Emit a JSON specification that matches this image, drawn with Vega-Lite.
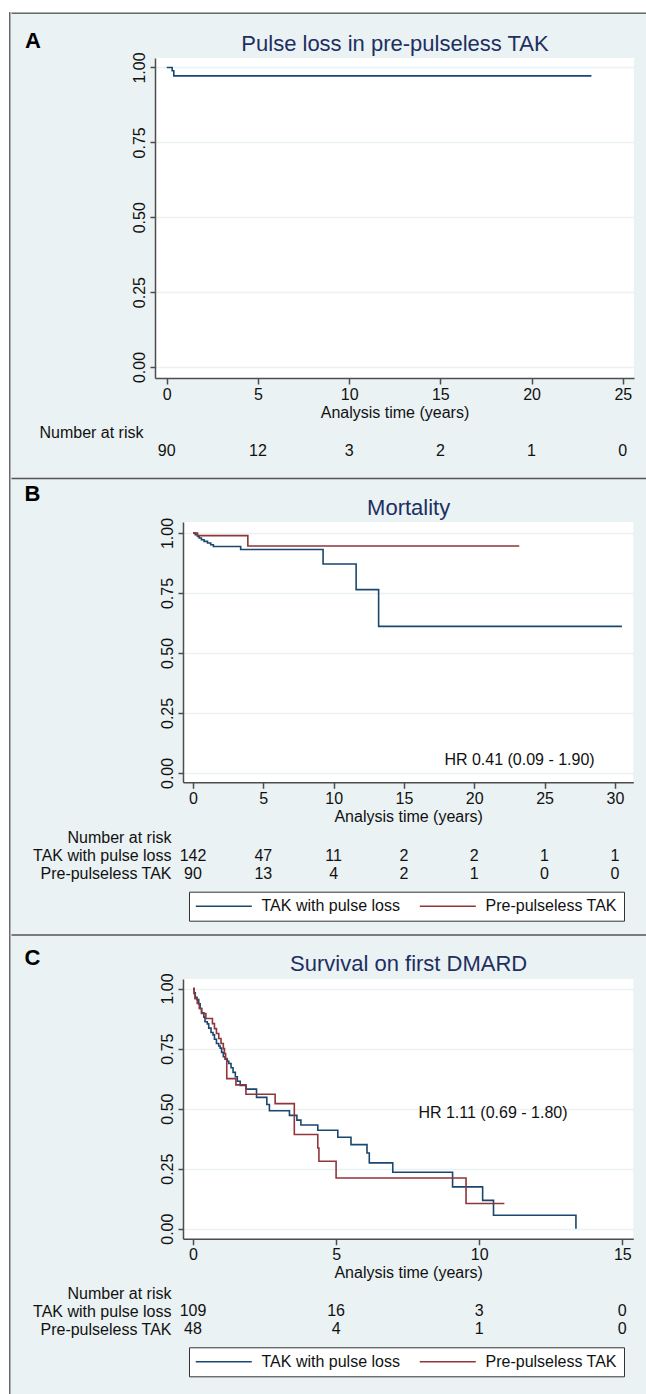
{
"$schema": "https://vega.github.io/schema/vega-lite/v6.json",
"background": "#eaf2f3",
"padding": 0,
"datasets": {
"a_curve": [{"t":0,"s":1},{"t":0.3,"s":0.989},{"t":0.39,"s":0.972},{"t":23.28,"s":0.972}],
"b_curve": [
{"g":"TAK with pulse loss","t":0,"s":1},{"g":"TAK with pulse loss","t":0.16,"s":0.993},{"g":"TAK with pulse loss","t":0.32,"s":0.986},{"g":"TAK with pulse loss","t":0.44,"s":0.979},{"g":"TAK with pulse loss","t":0.6,"s":0.972},{"g":"TAK with pulse loss","t":0.79,"s":0.965},{"g":"TAK with pulse loss","t":1.03,"s":0.958},{"g":"TAK with pulse loss","t":1.26,"s":0.951},{"g":"TAK with pulse loss","t":1.45,"s":0.944},{"g":"TAK with pulse loss","t":3.39,"s":0.931},{"g":"TAK with pulse loss","t":9.25,"s":0.871},{"g":"TAK with pulse loss","t":11.6,"s":0.764},{"g":"TAK with pulse loss","t":13.2,"s":0.611},{"g":"TAK with pulse loss","t":30.5,"s":0.611},
{"g":"Pre-pulseless TAK","t":0,"s":1},{"g":"Pre-pulseless TAK","t":0.32,"s":0.989},{"g":"Pre-pulseless TAK","t":3.9,"s":0.946},{"g":"Pre-pulseless TAK","t":23.2,"s":0.946}],
"c_curve": [
{"g":"TAK with pulse loss","t":0,"s":1},{"g":"TAK with pulse loss","t":0.04,"s":0.982},{"g":"TAK with pulse loss","t":0.08,"s":0.963},{"g":"TAK with pulse loss","t":0.14,"s":0.954},{"g":"TAK with pulse loss","t":0.2,"s":0.936},{"g":"TAK with pulse loss","t":0.25,"s":0.917},{"g":"TAK with pulse loss","t":0.3,"s":0.899},{"g":"TAK with pulse loss","t":0.38,"s":0.881},{"g":"TAK with pulse loss","t":0.42,"s":0.862},{"g":"TAK with pulse loss","t":0.5,"s":0.853},{"g":"TAK with pulse loss","t":0.55,"s":0.835},{"g":"TAK with pulse loss","t":0.63,"s":0.817},{"g":"TAK with pulse loss","t":0.7,"s":0.807},{"g":"TAK with pulse loss","t":0.75,"s":0.789},{"g":"TAK with pulse loss","t":0.82,"s":0.771},{"g":"TAK with pulse loss","t":0.9,"s":0.761},{"g":"TAK with pulse loss","t":0.95,"s":0.752},{"g":"TAK with pulse loss","t":1.0,"s":0.734},{"g":"TAK with pulse loss","t":1.06,"s":0.716},{"g":"TAK with pulse loss","t":1.12,"s":0.706},{"g":"TAK with pulse loss","t":1.2,"s":0.697},{"g":"TAK with pulse loss","t":1.25,"s":0.688},{"g":"TAK with pulse loss","t":1.33,"s":0.67},{"g":"TAK with pulse loss","t":1.4,"s":0.651},{"g":"TAK with pulse loss","t":1.48,"s":0.633},{"g":"TAK with pulse loss","t":1.55,"s":0.614},{"g":"TAK with pulse loss","t":1.65,"s":0.596},{"g":"TAK with pulse loss","t":1.86,"s":0.581},{"g":"TAK with pulse loss","t":2.22,"s":0.547},{"g":"TAK with pulse loss","t":2.58,"s":0.517},{"g":"TAK with pulse loss","t":2.67,"s":0.491},{"g":"TAK with pulse loss","t":3.37,"s":0.472},{"g":"TAK with pulse loss","t":3.63,"s":0.452},{"g":"TAK with pulse loss","t":3.77,"s":0.432},{"g":"TAK with pulse loss","t":4.36,"s":0.41},{"g":"TAK with pulse loss","t":5.06,"s":0.381},{"g":"TAK with pulse loss","t":5.52,"s":0.35},{"g":"TAK with pulse loss","t":6.08,"s":0.315},{"g":"TAK with pulse loss","t":6.16,"s":0.274},{"g":"TAK with pulse loss","t":6.98,"s":0.235},{"g":"TAK with pulse loss","t":9.07,"s":0.174},{"g":"TAK with pulse loss","t":10.12,"s":0.118},{"g":"TAK with pulse loss","t":10.5,"s":0.056},{"g":"TAK with pulse loss","t":13.38,"s":0.0},
{"g":"Pre-pulseless TAK","t":0,"s":1},{"g":"Pre-pulseless TAK","t":0.04,"s":0.979},{"g":"Pre-pulseless TAK","t":0.07,"s":0.958},{"g":"Pre-pulseless TAK","t":0.15,"s":0.938},{"g":"Pre-pulseless TAK","t":0.22,"s":0.917},{"g":"Pre-pulseless TAK","t":0.3,"s":0.896},{"g":"Pre-pulseless TAK","t":0.45,"s":0.875},{"g":"Pre-pulseless TAK","t":0.68,"s":0.854},{"g":"Pre-pulseless TAK","t":0.75,"s":0.833},{"g":"Pre-pulseless TAK","t":0.82,"s":0.813},{"g":"Pre-pulseless TAK","t":0.9,"s":0.792},{"g":"Pre-pulseless TAK","t":0.98,"s":0.771},{"g":"Pre-pulseless TAK","t":1.06,"s":0.75},{"g":"Pre-pulseless TAK","t":1.1,"s":0.729},{"g":"Pre-pulseless TAK","t":1.14,"s":0.708},{"g":"Pre-pulseless TAK","t":1.18,"s":0.625},{"g":"Pre-pulseless TAK","t":1.5,"s":0.599},{"g":"Pre-pulseless TAK","t":1.85,"s":0.56},{"g":"Pre-pulseless TAK","t":2.87,"s":0.521},{"g":"Pre-pulseless TAK","t":3.54,"s":0.392},{"g":"Pre-pulseless TAK","t":4.36,"s":0.336},{"g":"Pre-pulseless TAK","t":4.4,"s":0.281},{"g":"Pre-pulseless TAK","t":5.0,"s":0.211},{"g":"Pre-pulseless TAK","t":9.54,"s":0.105},{"g":"Pre-pulseless TAK","t":10.88,"s":0.105}],
"a_risk": [{"row":"n","t":0,"n":90},{"row":"n","t":5,"n":12},{"row":"n","t":10,"n":3},{"row":"n","t":15,"n":2},{"row":"n","t":20,"n":1},{"row":"n","t":25,"n":0}],
"b_risk": [
{"row":"TAK with pulse loss","t":0,"n":142},{"row":"TAK with pulse loss","t":5,"n":47},{"row":"TAK with pulse loss","t":10,"n":11},{"row":"TAK with pulse loss","t":15,"n":2},{"row":"TAK with pulse loss","t":20,"n":2},{"row":"TAK with pulse loss","t":25,"n":1},{"row":"TAK with pulse loss","t":30,"n":1},
{"row":"Pre-pulseless TAK","t":0,"n":90},{"row":"Pre-pulseless TAK","t":5,"n":13},{"row":"Pre-pulseless TAK","t":10,"n":4},{"row":"Pre-pulseless TAK","t":15,"n":2},{"row":"Pre-pulseless TAK","t":20,"n":1},{"row":"Pre-pulseless TAK","t":25,"n":0},{"row":"Pre-pulseless TAK","t":30,"n":0}],
"c_risk": [
{"row":"TAK with pulse loss","t":0,"n":109},{"row":"TAK with pulse loss","t":5,"n":16},{"row":"TAK with pulse loss","t":10,"n":3},{"row":"TAK with pulse loss","t":15,"n":0},
{"row":"Pre-pulseless TAK","t":0,"n":48},{"row":"Pre-pulseless TAK","t":5,"n":4},{"row":"Pre-pulseless TAK","t":10,"n":1},{"row":"Pre-pulseless TAK","t":15,"n":0}],
"b_hr": [{"label":"HR 0.41 (0.09 - 1.90)","t":23.22,"s":0.055}],
"c_hr": [{"label":"HR 1.11 (0.69 - 1.80)","t":10.48,"s":0.483}]
},
"config": {
"font": "Liberation Sans",
"view": {"stroke": null},
"axis": {"domainColor": "#4d4d4d", "domainWidth": 1.5, "tickColor": "#4d4d4d", "tickWidth": 1.5, "labelFont": "Liberation Sans", "labelFontSize": 16, "labelColor": "#111111", "titleFont": "Liberation Sans", "titleFontSize": 16, "titleFontWeight": "normal", "titleColor": "#111111"},
"axisX": {"grid": false, "tickSize": 6, "labelPadding": 2, "titlePadding": 2, "labelFlush": false},
"axisY": {"grid": true, "gridColor": "#eaf2f3", "gridWidth": 1.5, "tickSize": 5, "labelAngle": -90, "labelAlign": "center", "labelBaseline": "bottom", "labelPadding": 3},
"text": {"font": "Liberation Sans", "fontSize": 16, "color": "#111111"}
},
"spacing": 0,
"resolve": {"scale": {"color": "independent"}, "legend": {"color": "independent"}},
"vconcat": [
{"width": 646, "height": 12, "data": {"values": []}, "mark": "rect", "view": {"fill": "white", "stroke": null}},
{"hconcat": [
{"width": 9, "height": 1382, "data": {"values": []}, "mark": "rect", "view": {"fill": "white", "stroke": null}},
{"width": 1.5, "height": 1382, "data": {"values": []}, "mark": "rect", "view": {"fill": "#6a6a6a", "stroke": null}},
{"concat": [
 {"width": 635.5, "height": 17, "data": {"values": []}, "mark": "rect",
  "encoding": {"x": {"field": "t", "type": "quantitative", "scale": {"domain": [0, 1]}, "axis": {"orient": "top", "offset": -0.75, "labels": false, "ticks": false, "grid": false, "title": null, "domainColor": "#6a6a6a", "domainWidth": 1.5}}}},
 {"hconcat": [
  {"width": 12.5, "height": 1, "data": {"values": []}, "mark": "rect", "view": {"fill": null, "stroke": null}},
  {"vconcat": [
   {"width": 479, "height": 320,
    "view": {"fill": "white", "stroke": null},
    "resolve": {"axis": {"x": "independent"}},
    "layer": [
     {"data": {"name": "a_curve"},
      "mark": {"type": "line", "interpolate": "step-after", "color": "#1a476f", "strokeWidth": 1.6},
      "encoding": {
       "x": {"field": "t", "type": "quantitative", "scale": {"domain": [-0.641, 25.614], "nice": false, "zero": false}, "axis": {"orient": "bottom", "values": [0,5,10,15,20,25], "title": "Analysis time (years)"}},
       "y": {"field": "s", "type": "quantitative", "scale": {"domain": [-0.0367, 1.0317], "nice": false, "zero": false}, "axis": {"values": [0,0.25,0.5,0.75,1], "format": ".2f", "title": "A", "titleAngle": 0, "titleAlign": "left", "titleBaseline": "alphabetic", "titleX": -130.5, "titleY": -10.5, "titleFontSize": 22, "titleFontWeight": "bold", "titleColor": "#000000"}}
      }},
     {"data": {"name": "a_curve"},
      "mark": {"type": "line", "interpolate": "step-after", "opacity": 0},
      "encoding": {
       "x": {"field": "t", "type": "quantitative", "axis": {"orient": "top", "labels": false, "ticks": false, "domain": false, "grid": false, "title": "Pulse loss in pre-pulseless TAK", "titleFontSize": 22, "titleColor": "#1e2f61", "titleFontWeight": "normal", "titleBaseline": "alphabetic", "titleAlign": "center", "titleX": 239.5, "titleY": -8}},
       "y": {"field": "s", "type": "quantitative"}
      }}
    ]},
   {"width": 479, "height": 36,
    "data": {"name": "a_risk"},
    "mark": {"type": "text", "fontSize": 16, "baseline": "middle", "align": "center"},
    "encoding": {
     "x": {"field": "t", "type": "quantitative", "scale": {"domain": [-0.641, 25.614], "nice": false, "zero": false}, "axis": null},
     "y": {"field": "row", "type": "nominal", "scale": {"type": "point", "domain": ["Number at risk", "n"], "padding": 0.5}, "axis": {"title": null, "domain": false, "ticks": false, "grid": false, "labelAngle": 0, "labelAlign": "right", "labelBaseline": "middle", "labelPadding": 12, "labelExpr": "datum.value == 'n' ? '' : datum.value"}},
     "text": {"field": "n", "type": "quantitative"}
    }}
  ], "spacing": 3.5, "resolve": {"scale": {"color": "independent"}, "legend": {"color": "independent"}}}
 ], "spacing": 0, "resolve": {"scale": {"color": "independent"}, "legend": {"color": "independent"}}},
 {"width": 635.5, "height": 22, "data": {"values": []}, "mark": "rect",
  "encoding": {"x": {"field": "t", "type": "quantitative", "scale": {"domain": [0, 1]}, "axis": {"orient": "top", "offset": -18, "labels": false, "ticks": false, "grid": false, "title": null, "domainColor": "#555555", "domainWidth": 1.5}}}},
 {"hconcat": [
  {"width": 12.5, "height": 1, "data": {"values": []}, "mark": "rect", "view": {"fill": null, "stroke": null}},
  {"vconcat": [
   {"width": 450.3, "height": 260.3,
    "view": {"fill": "white", "stroke": null},
    "resolve": {"axis": {"x": "independent"}},
    "layer": [
     {"data": {"name": "b_curve"},
      "mark": {"type": "line", "interpolate": "step-after", "strokeWidth": 1.6},
      "encoding": {
       "x": {"field": "t", "type": "quantitative", "scale": {"domain": [-0.711, 31.31], "nice": false, "zero": false}, "axis": {"orient": "bottom", "values": [0,5,10,15,20,25,30], "title": "Analysis time (years)"}},
       "y": {"field": "s", "type": "quantitative", "scale": {"domain": [-0.039, 1.0458], "nice": false, "zero": false}, "axis": {"values": [0,0.25,0.5,0.75,1], "format": ".2f", "title": "B", "titleAngle": 0, "titleAlign": "left", "titleBaseline": "alphabetic", "titleX": -159, "titleY": -22, "titleFontSize": 22, "titleFontWeight": "bold", "titleColor": "#000000"}},
       "color": {"field": "g", "type": "nominal", "scale": {"domain": ["TAK with pulse loss", "Pre-pulseless TAK"], "range": ["#1a476f", "#90353b"]}, "legend": null}
      }},
     {"data": {"name": "b_hr"},
      "mark": {"type": "text", "fontSize": 16, "align": "center", "baseline": "middle"},
      "encoding": {
       "x": {"field": "t", "type": "quantitative", "axis": {"orient": "top", "labels": false, "ticks": false, "domain": false, "grid": false, "title": "Mortality", "titleFontSize": 22, "titleColor": "#1e2f61", "titleFontWeight": "normal", "titleBaseline": "alphabetic", "titleAlign": "center", "titleX": 225.15, "titleY": -8}},
       "y": {"field": "s", "type": "quantitative"},
       "text": {"field": "label", "type": "nominal"}
      }}
    ]},
   {"width": 450.3, "height": 54,
    "layer": [
     {"data": {"name": "b_risk"},
      "mark": {"type": "text", "fontSize": 16, "baseline": "middle", "align": "center"},
      "encoding": {
       "x": {"field": "t", "type": "quantitative", "scale": {"domain": [-0.711, 31.31], "nice": false, "zero": false}, "axis": null},
       "y": {"field": "row", "type": "nominal", "scale": {"type": "point", "domain": ["Number at risk", "TAK with pulse loss", "Pre-pulseless TAK"], "padding": 0.5}, "axis": {"title": null, "domain": false, "ticks": false, "grid": false, "labelAngle": 0, "labelAlign": "right", "labelBaseline": "middle", "labelPadding": 12}},
       "text": {"field": "n", "type": "quantitative"}
      }},
     {"data": {"name": "b_risk"},
      "mark": {"type": "point", "size": 0, "opacity": 0},
      "encoding": {
       "x": {"field": "t", "type": "quantitative"},
       "y": {"field": "row", "type": "nominal"},
       "color": {"field": "row", "type": "nominal", "scale": {"domain": ["TAK with pulse loss", "Pre-pulseless TAK"], "range": ["#1a476f", "#90353b"]}, "legend": {"orient": "none", "legendX": 6, "legendY": 63, "direction": "horizontal", "title": null, "symbolType": "M-1.1,0H6.9", "symbolSize": 196, "symbolStrokeWidth": 1.5, "symbolOpacity": 1, "labelFontSize": 16, "labelFont": "Liberation Sans", "labelColor": "#111111", "labelOffset": 50, "columnPadding": 16, "padding": 6.5, "fillColor": "white", "strokeColor": "#333333", "labelLimit": 400}}
      }}
    ]}
  ], "spacing": 3.7, "resolve": {"scale": {"color": "independent"}, "legend": {"color": "independent"}}}
 ], "spacing": 0, "resolve": {"scale": {"color": "independent"}, "legend": {"color": "independent"}}},
 {"width": 635.5, "height": 24, "data": {"values": []}, "mark": "rect",
  "encoding": {"x": {"field": "t", "type": "quantitative", "scale": {"domain": [0, 1]}, "axis": {"orient": "top", "offset": -12.5, "labels": false, "ticks": false, "grid": false, "title": null, "domainColor": "#555555", "domainWidth": 1.5}}}},
 {"hconcat": [
  {"width": 12.5, "height": 1, "data": {"values": []}, "mark": "rect", "view": {"fill": null, "stroke": null}},
  {"vconcat": [
   {"width": 450.3, "height": 259.7,
    "view": {"fill": "white", "stroke": null},
    "resolve": {"axis": {"x": "independent"}},
    "layer": [
     {"data": {"name": "c_curve"},
      "mark": {"type": "line", "interpolate": "step-after", "strokeWidth": 1.6},
      "encoding": {
       "x": {"field": "t", "type": "quantitative", "scale": {"domain": [-0.349, 15.384], "nice": false, "zero": false}, "axis": {"orient": "bottom", "values": [0,5,10,15], "title": "Analysis time (years)"}},
       "y": {"field": "s", "type": "quantitative", "scale": {"domain": [-0.0416, 1.0397], "nice": false, "zero": false}, "axis": {"values": [0,0.25,0.5,0.75,1], "format": ".2f", "title": "C", "titleAngle": 0, "titleAlign": "left", "titleBaseline": "alphabetic", "titleX": -159, "titleY": -15, "titleFontSize": 22, "titleFontWeight": "bold", "titleColor": "#000000"}},
       "color": {"field": "g", "type": "nominal", "scale": {"domain": ["TAK with pulse loss", "Pre-pulseless TAK"], "range": ["#1a476f", "#90353b"]}, "legend": null}
      }},
     {"data": {"name": "c_hr"},
      "mark": {"type": "text", "fontSize": 16, "align": "center", "baseline": "middle"},
      "encoding": {
       "x": {"field": "t", "type": "quantitative", "axis": {"orient": "top", "labels": false, "ticks": false, "domain": false, "grid": false, "title": "Survival on first DMARD", "titleFontSize": 22, "titleColor": "#1e2f61", "titleFontWeight": "normal", "titleBaseline": "alphabetic", "titleAlign": "center", "titleX": 225.15, "titleY": -8.3}},
       "y": {"field": "s", "type": "quantitative"},
       "text": {"field": "label", "type": "nominal"}
      }}
    ]},
   {"width": 450.3, "height": 54,
    "layer": [
     {"data": {"name": "c_risk"},
      "mark": {"type": "text", "fontSize": 16, "baseline": "middle", "align": "center"},
      "encoding": {
       "x": {"field": "t", "type": "quantitative", "scale": {"domain": [-0.349, 15.384], "nice": false, "zero": false}, "axis": null},
       "y": {"field": "row", "type": "nominal", "scale": {"type": "point", "domain": ["Number at risk", "TAK with pulse loss", "Pre-pulseless TAK"], "padding": 0.5}, "axis": {"title": null, "domain": false, "ticks": false, "grid": false, "labelAngle": 0, "labelAlign": "right", "labelBaseline": "middle", "labelPadding": 12}},
       "text": {"field": "n", "type": "quantitative"}
      }},
     {"data": {"name": "c_risk"},
      "mark": {"type": "point", "size": 0, "opacity": 0},
      "encoding": {
       "x": {"field": "t", "type": "quantitative"},
       "y": {"field": "row", "type": "nominal"},
       "color": {"field": "row", "type": "nominal", "scale": {"domain": ["TAK with pulse loss", "Pre-pulseless TAK"], "range": ["#1a476f", "#90353b"]}, "legend": {"orient": "none", "legendX": 6, "legendY": 63, "direction": "horizontal", "title": null, "symbolType": "M-1.1,0H6.9", "symbolSize": 196, "symbolStrokeWidth": 1.5, "symbolOpacity": 1, "labelFontSize": 16, "labelFont": "Liberation Sans", "labelColor": "#111111", "labelOffset": 50, "columnPadding": 16, "padding": 6.5, "fillColor": "white", "strokeColor": "#333333", "labelLimit": 400}}
      }}
    ]}
  ], "spacing": 3.3, "resolve": {"scale": {"color": "independent"}, "legend": {"color": "independent"}}}
 ], "spacing": 0, "resolve": {"scale": {"color": "independent"}, "legend": {"color": "independent"}}}
], "columns": 1, "align": "none", "spacing": 0, "resolve": {"scale": {"color": "independent"}, "legend": {"color": "independent"}}}
], "spacing": 0, "resolve": {"scale": {"color": "independent"}, "legend": {"color": "independent"}}}
]
}
